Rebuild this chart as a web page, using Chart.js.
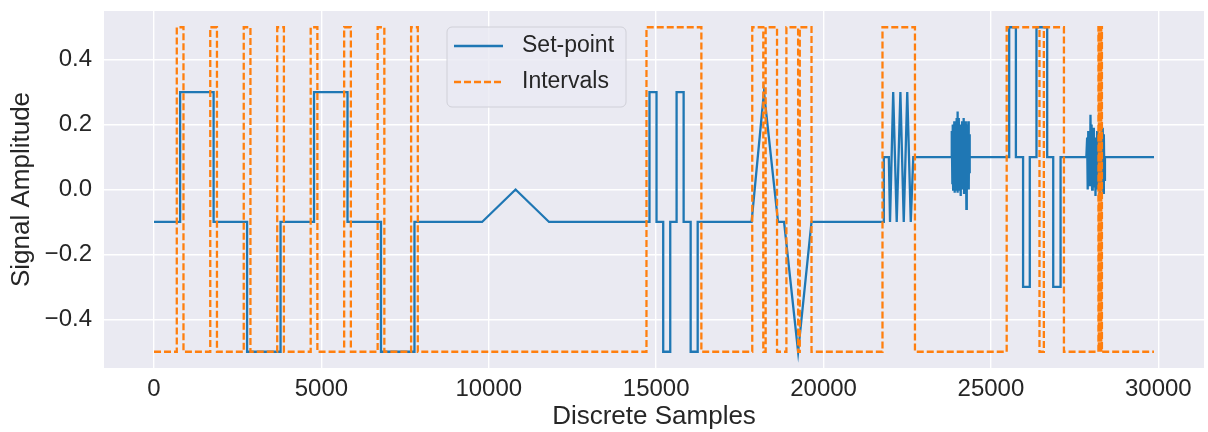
<!DOCTYPE html>
<html>
<head>
<meta charset="utf-8">
<script src="https://cdn.jsdelivr.net/npm/chart.js@4.4.1/dist/chart.umd.min.js"></script>
<style>
  html, body { margin: 0; padding: 0; background: #ffffff; }
  #wrap { width: 1208px; height: 432px; }
</style>
</head>
<body>
<div id="wrap"><canvas id="signalChart" width="1208" height="432"></canvas></div>
<script>
// Set-point corner points [sample, amplitude]
const setpointKnots = [
    [0, -0.1], [780, -0.1], [780, 0.3], [1780, 0.3], [1780, -0.1], [2780, -0.1], [2780, -0.5],
    [3780, -0.5], [3780, -0.1], [4780, -0.1], [4780, 0.3], [5780, 0.3], [5780, -0.1],
    [6780, -0.1], [6780, -0.5], [7780, -0.5], [7780, -0.1], [9800, -0.1], [10800, 0.0],
    [11800, -0.1], [14800, -0.1], [14800, 0.3], [15010, 0.3], [15010, -0.1], [15210, -0.1],
    [15210, -0.5], [15420, -0.5], [15420, -0.1], [15610, -0.1], [15610, 0.3], [15820, 0.3],
    [15820, -0.1], [16030, -0.1], [16030, -0.5], [16240, -0.5], [16240, -0.1],
    [17850, -0.1], [18220, 0.3], [18640, -0.1], [18820, -0.1], [19240, -0.5], [19640, -0.1],
    [21800, -0.1], [21800, 0.1], [21950, 0.1], [21985, -0.1], [22080, 0.3], [22185, -0.1],
    [22295, 0.3], [22395, -0.1], [22500, 0.3], [22605, -0.1], [22680, 0.1], [23820, 0.1]
];
// first noisy burst (samples 23824..24371)
const burst1Range = [23824, 24371];
const burst1Values = [0.1, 0.18, 0.02, 0.2, 0.0, 0.16, 0.03, 0.21, -0.01, 0.19, 0.01, 0.2,
    0.0, 0.22, 0.04, 0.24, -0.01, 0.2, 0.02, 0.22, 0.0, 0.18, 0.03, 0.2, -0.02, 0.19, 0.02,
    0.21, 0.0, 0.17, 0.01, 0.22, -0.01, 0.2, 0.03, 0.21, 0.0, 0.19, -0.06, 0.2, 0.02, 0.18,
    0.01, 0.21, 0.0, 0.17, 0.05, 0.1];
const middleKnots = [
    [24380, 0.1], [25545, 0.1], [25545, 0.5], [25745, 0.5], [25745, 0.1], [25960, 0.1],
    [25960, -0.3], [26160, -0.3], [26160, 0.1], [26360, 0.1], [26360, 0.5], [26680, 0.5],
    [26680, 0.1], [26860, 0.1], [26860, -0.3], [27080, -0.3], [27080, 0.1], [27850, 0.1]
];
// second noisy burst (samples 27857..28405)
const burst2Range = [27857, 28405];
const burst2Values = [0.1, 0.16, 0.0, 0.18, 0.02, 0.15, 0.01, 0.23, 0.03, 0.2, 0.0, 0.17,
    0.04, 0.19, 0.01, 0.16, -0.02, 0.15, 0.03, 0.18, 0.0, 0.17, 0.02, 0.14, -0.03, 0.16,
    0.01, 0.2, 0.02, 0.19, -0.01, 0.17, 0.03, 0.1];
const endKnots = [[28410, 0.1], [29870, 0.1]];

// Intervals: [start, end] of each high (0.5) window, low is -0.5
const intervals = [
    [680, 880], [1680, 1880], [2680, 2880], [3680, 3880], [4680, 4880], [5680, 5880],
    [6680, 6880], [7680, 7880], [14710, 16350], [17870, 18200], [18270, 18610],
    [18890, 19240], [19290, 19640], [21760, 22730], [25470, 26450], [26580, 27180],
    [28210, 28225], [28240, 28255], [28265, 28280], [28295, 28315]
];
const intervalLow = -0.5;
const intervalHigh = 0.5;
const lastSample = 29870;

const xTicks = [0, 5000, 10000, 15000, 20000, 25000, 30000];
const yTicks = [-0.4, -0.2, 0.0, 0.2, 0.4];

// build the point lists
function burstPoints(range, values) {
    const step = (range[1] - range[0]) / (values.length - 1);
    return values.map((v, i) => ({ x: range[0] + i * step, y: v }));
}
const toPts = arr => arr.map(p => ({ x: p[0], y: p[1] }));
const setpointData = [].concat(
    toPts(setpointKnots),
    burstPoints(burst1Range, burst1Values),
    toPts(middleKnots),
    burstPoints(burst2Range, burst2Values),
    toPts(endKnots)
);

const intervalData = [{ x: 0, y: intervalLow }];
intervals.forEach(function (iv) {
    intervalData.push({ x: iv[0], y: intervalLow }, { x: iv[0], y: intervalHigh },
                      { x: iv[1], y: intervalHigh }, { x: iv[1], y: intervalLow });
});
intervalData.push({ x: lastSample, y: intervalLow });

const BLUE = '#1f77b4';
const ORANGE = '#ff7f0e';
const TEXT = '#262626';
const FONT = '"Liberation Sans", Arial, sans-serif';
const LINE_W = 2.3;
const DASH = [7, 3];

// seaborn-like grey plot background
const plotBackground = {
    id: 'plotBackground',
    beforeDraw(chart) {
        const { ctx, chartArea: a } = chart;
        ctx.save();
        ctx.fillStyle = '#eaeaf2';
        ctx.fillRect(a.left, a.top, a.right - a.left, a.bottom - a.top);
        ctx.restore();
    }
};

// matplotlib-style legend box
const boxLegend = {
    id: 'boxLegend',
    afterDraw(chart) {
        const ctx = chart.ctx;
        const x = 447, y = 27, w = 179, h = 80, r = 5;
        ctx.save();
        ctx.beginPath();
        ctx.roundRect(x, y, w, h, r);
        ctx.fillStyle = 'rgba(234,234,242,0.8)';
        ctx.fill();
        ctx.strokeStyle = '#d0d0d8';
        ctx.lineWidth = 1;
        ctx.stroke();

        const items = [
            { label: 'Set-point', color: BLUE, dash: [], y: 46 },
            { label: 'Intervals', color: ORANGE, dash: DASH, y: 82 }
        ];
        items.forEach(function (it) {
            ctx.beginPath();
            ctx.setLineDash(it.dash);
            ctx.strokeStyle = it.color;
            ctx.lineWidth = LINE_W;
            ctx.moveTo(454, it.y);
            ctx.lineTo(503, it.y);
            ctx.stroke();
            ctx.setLineDash([]);
            ctx.fillStyle = TEXT;
            ctx.font = '23px ' + FONT;
            ctx.textBaseline = 'middle';
            ctx.textAlign = 'left';
            ctx.fillText(it.label, 522, it.y);
        });
        ctx.restore();
    }
};

function noEdgePadding(s) {
    s.paddingTop = 0;
    s.paddingBottom = 0;
    s.paddingLeft = 0;
    s.paddingRight = 0;
}

document.addEventListener('DOMContentLoaded', function () {
    const ctx = document.getElementById('signalChart').getContext('2d');

    new Chart(ctx, {
        type: 'line',
        data: {
            datasets: [
                {
                    label: 'Set-point',
                    data: setpointData,
                    borderColor: BLUE,
                    borderWidth: LINE_W,
                    pointRadius: 0,
                    fill: false,
                    order: 1
                },
                {
                    label: 'Intervals',
                    data: intervalData,
                    borderColor: ORANGE,
                    borderWidth: LINE_W,
                    borderDash: DASH,
                    pointRadius: 0,
                    fill: false,
                    order: 0
                }
            ]
        },
        options: {
            responsive: false,
            animation: false,
            layout: { padding: { left: 0, right: 4, top: 11, bottom: 0 } },
            plugins: {
                legend: { display: false },
                tooltip: { enabled: false }
            },
            scales: {
                x: {
                    type: 'linear',
                    min: -1494,
                    max: 31364,
                    afterBuildTicks: s => { s.ticks = xTicks.map(v => ({ value: v })); },
                    afterFit: s => { s.height = 64; noEdgePadding(s); },
                    border: { display: false },
                    grid: { color: '#ffffff', lineWidth: 1.4, drawTicks: false },
                    ticks: {
                        color: TEXT,
                        font: { family: FONT, size: 24 },
                        padding: 7,
                        maxRotation: 0,
                        callback: v => String(v)
                    },
                    title: {
                        display: true,
                        text: 'Discrete Samples',
                        color: TEXT,
                        font: { family: FONT, size: 26 },
                        padding: { top: 0, bottom: 0 }
                    }
                },
                y: {
                    type: 'linear',
                    min: -0.55,
                    max: 0.55,
                    afterBuildTicks: s => { s.ticks = yTicks.map(v => ({ value: v })); },
                    afterFit: s => { s.width = 104; noEdgePadding(s); },
                    border: { display: false },
                    grid: { color: '#ffffff', lineWidth: 1.4, drawTicks: false },
                    ticks: {
                        color: TEXT,
                        font: { family: FONT, size: 24 },
                        padding: 12,
                        callback: v => v.toFixed(1).replace('-', '\u2212')
                    },
                    title: {
                        display: true,
                        text: 'Signal Amplitude',
                        color: TEXT,
                        font: { family: FONT, size: 26 },
                        padding: { top: 6, bottom: 0 }
                    }
                }
            }
        },
        plugins: [plotBackground, boxLegend]
    });
});
</script>
</body>
</html>
